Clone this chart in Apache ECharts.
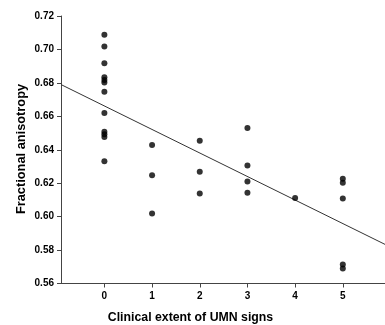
<!DOCTYPE html>
<html>
<head>
<meta charset="utf-8">
<script src="https://cdn.jsdelivr.net/npm/echarts@6/dist/echarts.min.js"></script>
<style>html,body{margin:0;padding:0;background:#fff}#c{width:385px;height:325px}</style>
</head>
<body>
<div id="c"></div>
<script>
var umnExtent = [0,0,0,0,0,0,0,0,0,0,0,0, 1,1,1, 2,2,2, 3,3,3,3, 4, 5,5,5,5,5];
var fractionalAnisotropy = [0.7088,0.7017,0.6918,0.6834,0.6817,0.6802,0.6747,0.6620,0.6508,0.6492,0.6477,0.6331,
  0.6429,0.6248,0.6018,
  0.6454,0.6268,0.6139,
  0.6530,0.6306,0.6210,0.6143,
  0.6111,
  0.6226,0.6202,0.6109,0.5713,0.5689];
var fitX = [-0.91, 5.885];
var fitY = [0.679, 0.5834];
var xTicks = [0,1,2,3,4,5];
var yTicks = [0.56,0.58,0.60,0.62,0.64,0.66,0.68,0.70,0.72];
var xTitle = 'Clinical extent of UMN signs';
var yTitle = 'Fractional anisotropy';

var chart = echarts.init(document.getElementById('c'), null, {renderer:'canvas'});
var pts = umnExtent.map(function(x,i){return [x, fractionalAnisotropy[i]];});
var fit = fitX.map(function(x,i){return [x, fitY[i]];});
var lab = {color:'#000', fontFamily:'Liberation Sans, Arial, sans-serif', fontSize:10, fontWeight:'bold'};
chart.setOption({
  animation:false,
  backgroundColor:'#fff',
  grid:{left:61, right:0, top:16, bottom:41.5, containLabel:false},
  xAxis:{type:'value', min:-0.91, max:5.885,
    axisLine:{onZero:false, lineStyle:{color:'#444', width:1}},
    axisTick:{show:true, inside:false, length:4, customValues:xTicks, lineStyle:{color:'#444'}},
    axisLabel:Object.assign({customValues:xTicks, margin:8, formatter:function(v){return String(v);}}, lab),
    splitLine:{show:false}},
  yAxis:{type:'value', min:0.56, max:0.72,
    axisLine:{show:true, onZero:false, lineStyle:{color:'#444', width:1}},
    axisTick:{show:true, inside:false, length:4, customValues:yTicks, lineStyle:{color:'#444'}},
    axisLabel:Object.assign({customValues:yTicks, margin:7, formatter:function(v){return v.toFixed(2);}}, lab),
    splitLine:{show:false}},
  graphic:[
    {type:'text', x:190.5, y:318, style:{text:xTitle, font:'bold 12.3px "Liberation Sans", Arial, sans-serif', fill:'#000', textAlign:'center', textVerticalAlign:'middle'}},
    {type:'text', x:21, y:149, rotation:Math.PI/2, style:{text:yTitle, font:'bold 12.8px "Liberation Sans", Arial, sans-serif', fill:'#000', textAlign:'center', textVerticalAlign:'middle'}}
  ],
  series:[
    {type:'line', data:fit, showSymbol:false, symbol:'none', lineStyle:{color:'#333', width:1}, silent:true, z:1},
    {type:'scatter', data:pts, symbol:'circle', symbolSize:6, itemStyle:{color:'#000'}, z:2}
  ]
});
</script>
</body>
</html>
